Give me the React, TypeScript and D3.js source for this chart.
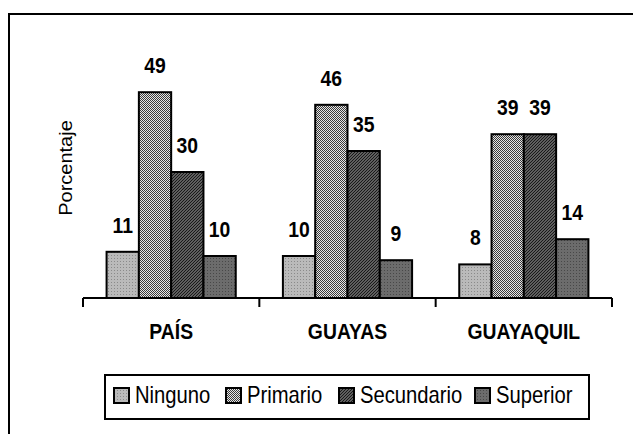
import React, { useEffect, useRef } from 'react';
import * as d3 from 'd3';

const categories = ['PAÍS', 'GUAYAS', 'GUAYAQUIL'];
const seriesNames = ['Ninguno', 'Primario', 'Secundario', 'Superior'];
const ninguno = [11, 10, 8];
const primario = [49, 46, 39];
const secundario = [30, 35, 39];
const superior = [10, 9, 14];
const seriesValues = [ninguno, primario, secundario, superior];

const FONT = '"Liberation Sans", Arial, sans-serif';
// the original picture is squeezed horizontally
const SQ = 0.88;

const App: React.FC = () => {
  const ref = useRef<SVGSVGElement | null>(null);

  useEffect(() => {
    const svg = d3.select(ref.current);
    svg.selectAll('*').remove();

    const W = 633;
    const H = 434;
    const baseY = 298;

    // patterns
    const defs = svg.append('defs');
    const p1 = defs.append('pattern').attr('id', 'p-ninguno').attr('width', 3).attr('height', 3)
      .attr('patternUnits', 'userSpaceOnUse');
    p1.append('rect').attr('width', 3).attr('height', 3).attr('fill', '#bababa');
    p1.append('rect').attr('width', 1).attr('height', 1).attr('fill', '#8a8a8a');

    const p2 = defs.append('pattern').attr('id', 'p-primario').attr('width', 2).attr('height', 2)
      .attr('patternUnits', 'userSpaceOnUse');
    p2.append('rect').attr('width', 2).attr('height', 2).attr('fill', '#e6e6e6');
    p2.append('rect').attr('width', 1).attr('height', 1).attr('fill', '#3a3a3a');
    p2.append('rect').attr('x', 1).attr('y', 1).attr('width', 1).attr('height', 1).attr('fill', '#3a3a3a');

    const p3 = defs.append('pattern').attr('id', 'p-secundario').attr('width', 3).attr('height', 3)
      .attr('patternUnits', 'userSpaceOnUse');
    p3.append('rect').attr('width', 3).attr('height', 3).attr('fill', '#808080');
    p3.append('path').attr('d', 'M-1,1 L1,-1 M0,3 L3,0 M2,4 L4,2').attr('stroke', '#151515').attr('stroke-width', 1.2);

    const p4 = defs.append('pattern').attr('id', 'p-superior').attr('width', 3).attr('height', 3)
      .attr('patternUnits', 'userSpaceOnUse');
    p4.append('rect').attr('width', 3).attr('height', 3).attr('fill', '#6c6c6c');
    p4.append('rect').attr('width', 1).attr('height', 1).attr('fill', '#484848');

    const fills = ['url(#p-ninguno)', 'url(#p-primario)', 'url(#p-secundario)', 'url(#p-superior)'];

    const addText = (
      parent: d3.Selection<any, any, any, any>,
      x: number,
      y: number,
      str: string,
      size: number,
      bold: boolean,
      anchor: string,
      rotate = 0
    ) => {
      parent.append('text')
        .attr('transform', `translate(${x},${y}) scale(${SQ},1)${rotate ? ` rotate(${rotate})` : ''}`)
        .attr('text-anchor', anchor)
        .attr('font-family', FONT)
        .attr('font-weight', bold ? 'bold' : 'normal')
        .attr('font-size', size)
        .attr('fill', '#000')
        .text(str);
    };

    // outer frame
    svg.append('rect')
      .attr('x', 9).attr('y', 14)
      .attr('width', W + 20).attr('height', H + 20)
      .attr('fill', 'none').attr('stroke', '#000').attr('stroke-width', 2);

    const x0 = d3.scaleBand().domain(categories).range([83, 612]).padding(0);
    const x1 = d3.scaleBand().domain(seriesNames).range([0, x0.bandwidth()])
      .paddingInner(0).paddingOuter(0.73);
    const y = d3.scaleLinear().domain([0, 50]).range([baseY, baseY - 210]);

    // bars
    seriesNames.forEach((s, si) => {
      const g = svg.append('g');
      g.selectAll('rect')
        .data(categories)
        .enter()
        .append('rect')
        .attr('x', (c) => x0(c)! + x1(s)!)
        .attr('y', (c, i) => y(seriesValues[si][i]))
        .attr('width', x1.bandwidth())
        .attr('height', (c, i) => baseY - y(seriesValues[si][i]))
        .attr('fill', fills[si])
        .attr('stroke', '#000')
        .attr('stroke-width', 2);
      categories.forEach((c, i) => {
        addText(g, x0(c)! + x1(s)! + x1.bandwidth() / 2, y(seriesValues[si][i]) - 19,
          String(seriesValues[si][i]), 22, true, 'middle');
      });
    });

    // x axis
    const axis = d3.axisBottom(x0).tickSize(0).tickPadding(0).tickFormat(() => '');
    const ax = svg.append('g').attr('transform', `translate(0,${baseY})`).call(axis);
    ax.select('.domain').remove();
    ax.selectAll('.tick').remove();
    ax.append('line').attr('x1', 83).attr('x2', 612).attr('stroke', '#000').attr('stroke-width', 1.8);
    const edges = [83, ...categories.map((c) => x0(c)! + x0.bandwidth())];
    ax.selectAll('line.edge')
      .data(edges)
      .enter()
      .append('line')
      .attr('class', 'edge')
      .attr('x1', (d) => d).attr('x2', (d) => d)
      .attr('y1', 0).attr('y2', 9)
      .attr('stroke', '#000').attr('stroke-width', 2);
    categories.forEach((c) => {
      addText(ax, x0(c)! + x0.bandwidth() / 2, 41, c, 22, true, 'middle');
    });

    // y title
    addText(svg, 72, 168, 'Porcentaje', 20, false, 'middle', -90);

    // legend
    const lg = svg.append('g');
    lg.append('rect')
      .attr('x', 105).attr('y', 375).attr('width', 484).attr('height', 44)
      .attr('fill', '#fff').attr('stroke', '#000').attr('stroke-width', 2);
    const legendX = [114, 226, 339, 475];
    seriesNames.forEach((s, i) => {
      lg.append('rect')
        .attr('x', legendX[i]).attr('y', 388).attr('width', 15).attr('height', 15)
        .attr('fill', fills[i]).attr('stroke', '#000').attr('stroke-width', 2);
      addText(lg, legendX[i] + 21, 403, s, 23, false, 'start');
    });
  }, []);

  return (
    <svg
      ref={ref}
      width={633}
      height={434}
      style={{ position: 'absolute', left: 0, top: 0, background: '#fff' }}
    />
  );
};

export default App;
